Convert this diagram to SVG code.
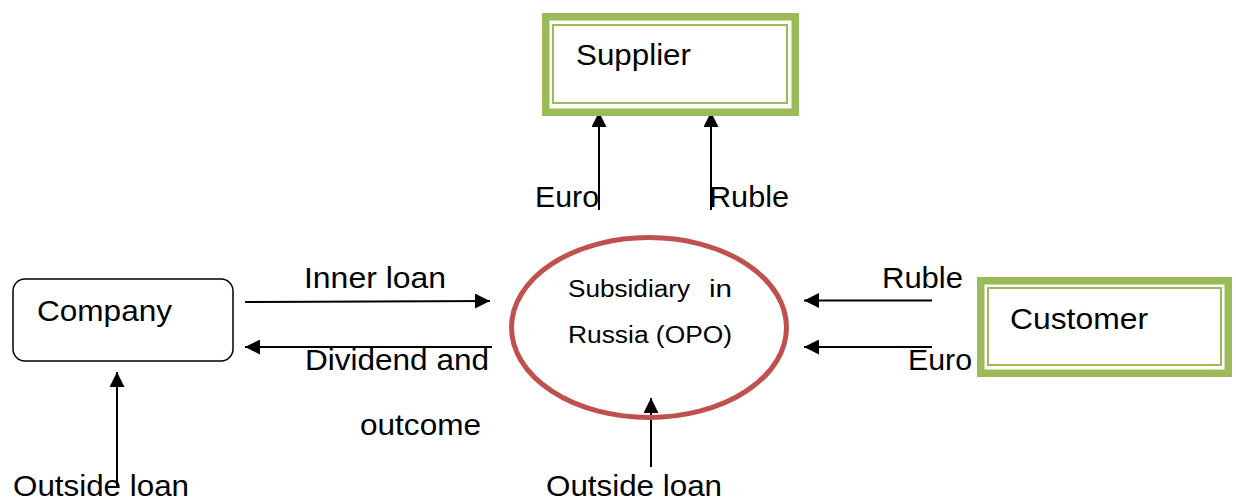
<svg xmlns="http://www.w3.org/2000/svg" width="1236" height="499" viewBox="0 0 1236 499">
<style>
  text { font-family: "Liberation Sans", Arial, sans-serif; fill: #000; }
  .big { font-size: 29px; }
  .small { font-size: 23.5px; }
  .conn { stroke: #000; stroke-width: 2; fill: none; marker-end: url(#ah); }
  .gout { fill: #fff; stroke: #9BBB59; stroke-width: 7.5; }
  .gin { fill: none; stroke: #9BBB59; stroke-width: 2; }
</style>
<defs>
  <marker id="ah" markerUnits="userSpaceOnUse" markerWidth="15" markerHeight="15" viewBox="0 0 15 15" refX="15" refY="7.5" orient="auto">
    <path d="M0,0 L15,7.5 L0,15 z" fill="#000"/>
  </marker>
</defs>
<rect width="1236" height="499" fill="#fff"/>
<g id="connectors">
  <line class="conn" x1="599" y1="210" x2="599" y2="112"/>
  <line class="conn" x1="711" y1="210" x2="711" y2="112"/>
  <line class="conn" x1="245" y1="302" x2="490" y2="301"/>
  <line class="conn" x1="492" y1="347" x2="245" y2="347"/>
  <line class="conn" x1="932" y1="300.5" x2="804" y2="300.5"/>
  <line class="conn" x1="932" y1="347" x2="804" y2="347"/>
  <line class="conn" x1="117" y1="488" x2="117" y2="372"/>
  <line class="conn" x1="651" y1="467" x2="651" y2="398"/>
</g>
<g id="supplier">
  <rect class="gout" x="545.75" y="16.75" width="249.5" height="95.5"/>
  <rect class="gin" x="553" y="25" width="234" height="78"/>
  <text class="big" x="576" y="65" textLength="115" lengthAdjust="spacingAndGlyphs">Supplier</text>
</g>
<g id="company">
  <rect x="13" y="279" width="220" height="82" rx="12" ry="12" fill="#fff" stroke="#000" stroke-width="1.5"/>
  <text class="big" x="37" y="321" textLength="135" lengthAdjust="spacingAndGlyphs">Company</text>
</g>
<g id="customer">
  <rect class="gout" x="980.75" y="280.75" width="247.5" height="92.5"/>
  <rect class="gin" x="988" y="288" width="233" height="77"/>
  <text class="big" x="1010" y="329" textLength="138" lengthAdjust="spacingAndGlyphs">Customer</text>
</g>
<g id="subsidiary">
  <ellipse cx="649" cy="327.5" rx="137.5" ry="90" fill="none" stroke="#C0504D" stroke-width="5"/>
  <text class="small" y="297"><tspan x="568" textLength="122" lengthAdjust="spacingAndGlyphs">Subsidiary</tspan> <tspan x="709" textLength="23" lengthAdjust="spacingAndGlyphs">in</tspan></text>
  <text class="small" x="568" y="343" textLength="164" lengthAdjust="spacingAndGlyphs">Russia (OPO)</text>
</g>
<g id="labels">
  <text class="big" x="535" y="207" textLength="64" lengthAdjust="spacingAndGlyphs">Euro</text>
  <text class="big" x="709" y="207" textLength="80" lengthAdjust="spacingAndGlyphs">Ruble</text>
  <text class="big" x="304" y="288" textLength="142" lengthAdjust="spacingAndGlyphs">Inner loan</text>
  <text class="big" x="305" y="370" textLength="184" lengthAdjust="spacingAndGlyphs">Dividend and</text>
  <text class="big" x="360" y="435" textLength="121" lengthAdjust="spacingAndGlyphs">outcome</text>
  <text class="big" x="882" y="288" textLength="81" lengthAdjust="spacingAndGlyphs">Ruble</text>
  <text class="big" x="908" y="370" textLength="64" lengthAdjust="spacingAndGlyphs">Euro</text>
  <text class="big" x="13" y="496" textLength="176" lengthAdjust="spacingAndGlyphs">Outside loan</text>
  <text class="big" x="546" y="496" textLength="176" lengthAdjust="spacingAndGlyphs">Outside loan</text>
</g>
</svg>
